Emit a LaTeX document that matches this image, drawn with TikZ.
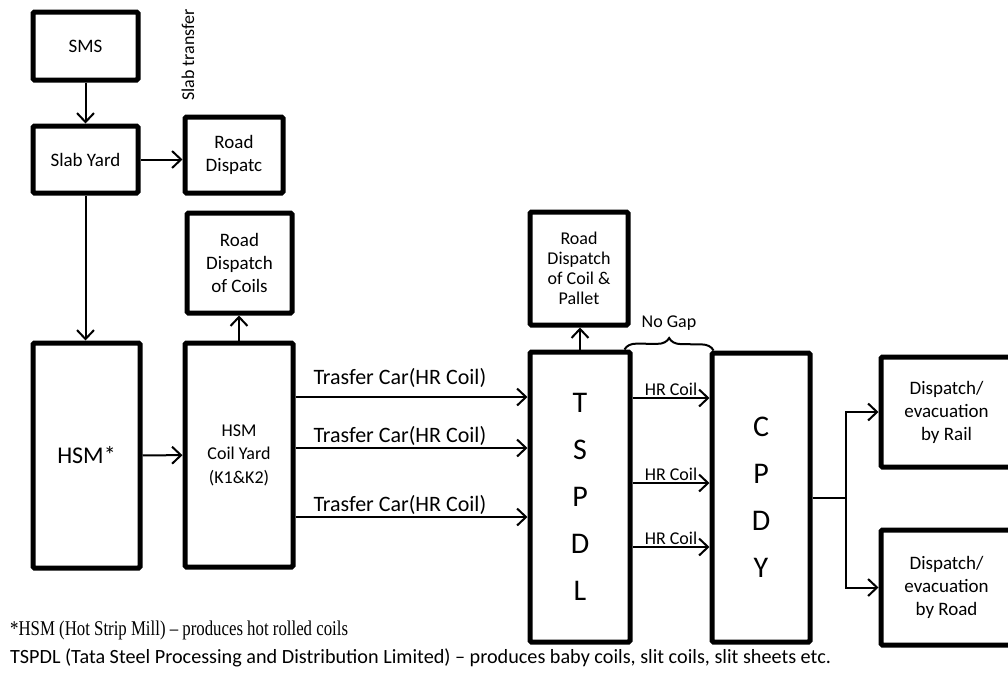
\documentclass[tikz,border=0pt]{standalone}
\usepackage{fontspec}
\setmainfont{Carlito}
\newfontfamily\tnrfont[FakeStretch=0.8]{Liberation Serif}
\usetikzlibrary{shapes,arrows.meta,positioning,calc,decorations.pathreplacing}

\tikzset{
  blk/.style={draw, rectangle, line width=5pt, rounded corners=1.5pt, align=center, inner sep=1pt, font=\fontsize{19}{23}\selectfont},
  arr/.style={-{Straight Barb[length=9pt,width=17pt]}, line width=2pt},
  lbl/.style={font=\fontsize{18}{20}\selectfont, inner sep=1pt},
}

\begin{document}
\begin{tikzpicture}[x=1pt, y=-1pt]
\useasboundingbox (0,0) rectangle (1008,673);

% SMS, Slab Yard
\node[blk, minimum width=105pt, minimum height=68pt] (sms) at (85.5,46) {SMS};
\node[blk, minimum width=105pt, minimum height=67pt] (slab) at (85.5,159.5) {Slab Yard};
\node[blk, minimum width=98pt, minimum height=76pt] (roadd) at (234,155) {Road\\Dispatc};
\node[rotate=90, lbl] (slabtr) at (188,55) {Slab transfer};

% HSM, Coil Yard
\node[blk, minimum width=107pt, minimum height=225pt, font=\fontsize{24}{28}\selectfont] (hsm) at (86.5,455.5) {HSM*};
\node[blk, minimum width=108pt, minimum height=224pt, font=\fontsize{18}{23.5}\selectfont] (coilyard) at (239,455) {HSM\\Coil Yard\\(K1\&K2)};
\node[blk, minimum width=105pt, minimum height=100pt] (roadcoils) at (239.5,263) {Road\\Dispatch\\of Coils};

% TSPDL, CPDY
\node[blk, minimum width=100pt, minimum height=290pt, font=\fontsize{30}{47}\selectfont] (tspdl) at (580,497) {T\\S\\P\\D\\L};
\node[blk, minimum width=98pt, minimum height=113pt, font=\fontsize{18}{20}\selectfont] (pallet) at (579,268.5) {Road\\Dispatch\\of Coil \&\\Pallet};
\node[blk, minimum width=98pt, minimum height=289pt, font=\fontsize{30}{47}\selectfont] (cpdy) at (761,497.5) {C\\P\\D\\Y};

% Dispatch
\node[blk, minimum width=131pt, minimum height=110pt] (rail) at (946.5,412) {Dispatch/\\evacuation\\by Rail};
\node[blk, minimum width=131pt, minimum height=115pt] (road) at (946.5,587.5) {Dispatch/\\evacuation\\by Road};

% arrows
\draw[arr] (sms) -- (slab);
\draw[arr] (slab.east) -- (slab.east -| roadd.west);
\draw[arr] (slab.south) -- (slab.south |- hsm.north);
\draw[arr] (hsm) -- (coilyard);
\draw[arr] (coilyard.north) -- (coilyard.north |- roadcoils.south);
\draw[arr] (tspdl.north) -- (tspdl.north |- pallet.south);

\foreach \y/\s in {397/7, 448/0, 517/0}
  \draw[arr] (coilyard.east |- 0,\y) -- (tspdl.west |- 0,\y)
    node[lbl, font=\fontsize{22}{24}\selectfont, above=\s pt, pos=0.45] {Trasfer Car(HR Coil)};

\foreach \y in {398, 483, 547}
  \draw[arr] (tspdl.east |- 0,\y) -- (cpdy.west |- 0,\y) node[lbl, above, midway] {HR Coil};

% No Gap
\draw[line width=2pt, decorate, decoration={brace, amplitude=12pt}]
  ($(tspdl.north east)+(-8,0)$) -- ($(cpdy.north west)+(4,0)$)
  node[lbl, midway, above=18pt] (nogap) {No Gap};

% branch to dispatch
\coordinate (split) at ($(cpdy.east)+(33,0)$);
\draw[line width=2pt] (cpdy.east) -- (split);
\draw[arr] (split) |- (rail.west);
\draw[arr] (split) |- (road.west);

% notes
\node[anchor=west, inner sep=0pt, font=\tnrfont\fontsize{21}{22}\selectfont] (fnhsm) at (10,630) {*HSM (Hot Strip Mill) – produces hot rolled coils};
\node[anchor=west, inner sep=0pt, font=\fontsize{20.2}{24}\selectfont] (fntspdl) at (10,658) {TSPDL (Tata Steel Processing and Distribution Limited) – produces baby coils, slit coils, slit sheets etc.};
\end{tikzpicture}
\end{document}
